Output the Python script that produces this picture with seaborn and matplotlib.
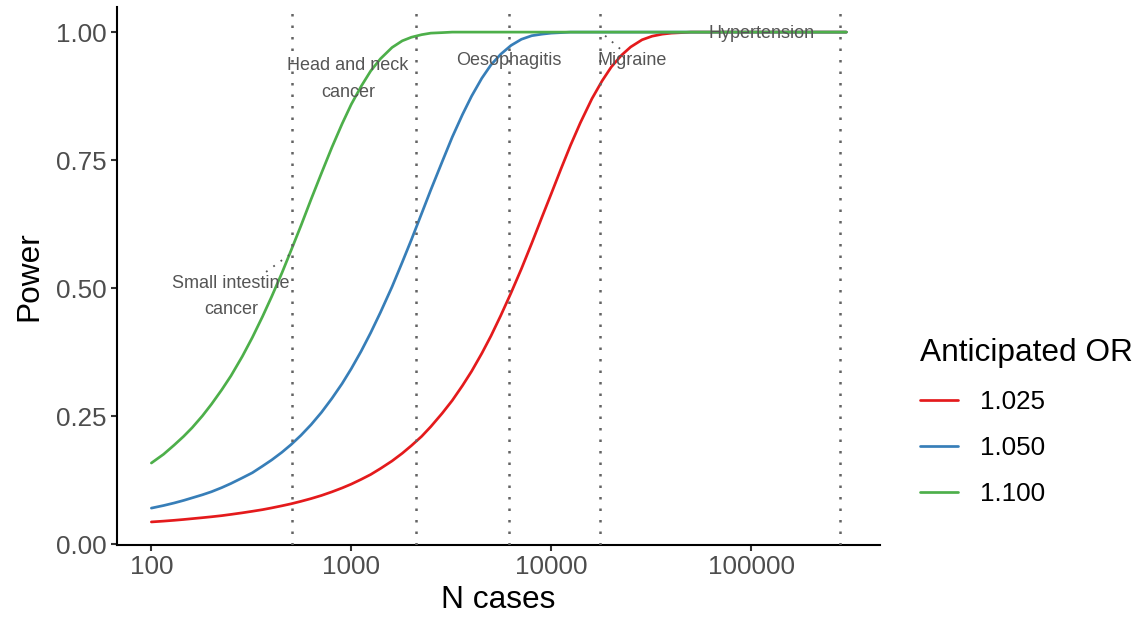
import numpy as np
import pandas as pd
import matplotlib
matplotlib.use("Agg")
import matplotlib.pyplot as plt
import seaborn as sns
from matplotlib.ticker import FixedLocator, FixedFormatter, NullLocator

# Number of cases at which power was evaluated
n_cases = [100, 115, 130, 145, 160, 180, 200, 225, 250, 285,
           320, 360, 400, 450, 500, 560, 630, 710, 800, 900,
           1000, 1120, 1250, 1400, 1600, 1800, 2000, 2250, 2500, 2850,
           3200, 3600, 4000, 4500, 5000, 5600, 6300, 7100, 8000, 9000,
           10000, 11200, 12500, 14000, 16000, 18000, 20000, 22500, 25000, 28500,
           32000, 36000, 40000, 45000, 50000, 63000, 80000, 100000, 200000, 300000]

# Power for each anticipated odds ratio
power_or_1025 = [0.0440, 0.0456, 0.0472, 0.0488, 0.0504, 0.0523, 0.0541, 0.0563, 0.0587, 0.0618,
                 0.0648, 0.0680, 0.0714, 0.0755, 0.0794, 0.0842, 0.0896, 0.0957, 0.1027, 0.1103,
                 0.1178, 0.1270, 0.1365, 0.1482, 0.1630, 0.1780, 0.1930, 0.2110, 0.2300, 0.2560,
                 0.2810, 0.3100, 0.3380, 0.3730, 0.4070, 0.4470, 0.4910, 0.5380, 0.5880, 0.6390,
                 0.6840, 0.7330, 0.7790, 0.8230, 0.8700, 0.9050, 0.9320, 0.9550, 0.9710, 0.9850,
                 0.9920, 0.9960, 0.9980, 0.9990, 1.0000, 1.0000, 1.0000, 1.0000, 1.0000, 1.0000]
power_or_1050 = [0.071, 0.076, 0.081, 0.086, 0.091, 0.097, 0.103, 0.111, 0.119, 0.130,
                 0.140, 0.153, 0.165, 0.180, 0.195, 0.213, 0.234, 0.258, 0.285, 0.314,
                 0.343, 0.377, 0.413, 0.453, 0.503, 0.551, 0.595, 0.646, 0.692, 0.747,
                 0.795, 0.839, 0.875, 0.910, 0.936, 0.957, 0.974, 0.986, 0.993, 0.996,
                 0.998, 0.999, 1.000, 1.000, 1.000, 1.000, 1.000, 1.000, 1.000, 1.000,
                 1.000, 1.000, 1.000, 1.000, 1.000, 1.000, 1.000, 1.000, 1.000, 1.000]
power_or_1100 = [0.159, 0.176, 0.194, 0.211, 0.228, 0.251, 0.274, 0.302, 0.329, 0.367,
                 0.404, 0.445, 0.484, 0.530, 0.574, 0.622, 0.674, 0.725, 0.775, 0.821,
                 0.859, 0.894, 0.924, 0.948, 0.970, 0.983, 0.990, 0.995, 0.998, 0.999,
                 1.000, 1.000, 1.000, 1.000, 1.000, 1.000, 1.000, 1.000, 1.000, 1.000,
                 1.000, 1.000, 1.000, 1.000, 1.000, 1.000, 1.000, 1.000, 1.000, 1.000,
                 1.000, 1.000, 1.000, 1.000, 1.000, 1.000, 1.000, 1.000, 1.000, 1.000]
or_labels = ["1.025", "1.050", "1.100"]

# Observed case numbers per outcome
disease_names = ["Small intestine\ncancer", "Head and neck\ncancer",
                 "Oesophagitis", "Migraine", "Hypertension"]
disease_cases = [503, 2106, 6186, 17640, 278600]

x_ticks = [100, 1000, 10000, 100000]
x_tick_labels = ["100", "1000", "10000", "100000"]
y_ticks = [0.00, 0.25, 0.50, 0.75, 1.00]
y_tick_labels = ["0.00", "0.25", "0.50", "0.75", "1.00"]

palette = ["#E41A1C", "#377EB8", "#4DAF4A"]

df = pd.DataFrame({
    "N cases": n_cases * 3,
    "Power": power_or_1025 + power_or_1050 + power_or_1100,
    "Anticipated OR": [lab for lab in or_labels for _ in n_cases],
})

sns.set_theme(style="ticks")
plt.rcParams["font.family"] = ["Liberation Sans", "DejaVu Sans"]

fig = plt.figure(figsize=(11.36, 6.18), dpi=100)
ax = fig.add_axes([117 / 1136, 1 - 545 / 618, (880 - 117) / 1136, (545 - 7) / 618])

sns.lineplot(data=df, x="N cases", y="Power", hue="Anticipated OR",
             palette=palette, linewidth=1.95, estimator=None, sort=True,
             ax=ax, zorder=2)

ax.set_xscale("log")
ax.set_xlim(67.3, 441900)
ax.set_ylim(-0.001, 1.049)

# Case-count reference lines
for n in disease_cases:
    ax.axvline(n, color="#636363", linewidth=1.8,
               linestyle=(0, (1, 3.6)), dash_capstyle="butt", zorder=3)

# Outcome labels (text centre in data coordinates)
label_spots = [(250.4, 0.484), (964, 0.908), (6158, 0.944),
               (25390, 0.944), (113500, 0.997)]
for name, (lx, ly) in zip(disease_names, label_spots):
    ax.text(lx, ly, name, ha="center", va="center", fontsize=13,
            color="#555555", linespacing=1.75, zorder=4)

# Leader segments from labels to their reference lines
ax.plot([374.8, 488.5], [0.532, 0.565], color="#555555", linewidth=1.3,
        linestyle=(0, (1, 4)), zorder=4)
ax.plot([18620, 22650], [0.993, 0.964], color="#555555", linewidth=1.3,
        linestyle=(0, (1, 4)), zorder=4)

ax.xaxis.set_major_locator(FixedLocator(x_ticks))
ax.xaxis.set_major_formatter(FixedFormatter(x_tick_labels))
ax.xaxis.set_minor_locator(NullLocator())
ax.yaxis.set_major_locator(FixedLocator(y_ticks))
ax.yaxis.set_major_formatter(FixedFormatter(y_tick_labels))

for side in ["top", "right"]:
    ax.spines[side].set_visible(False)
for side in ["left", "bottom"]:
    ax.spines[side].set_linewidth(1.5)
    ax.spines[side].set_color("black")

ax.tick_params(axis="both", which="major", length=4.5, width=1.5,
               color="#333333", labelsize=18.7, labelcolor="#4D4D4D", pad=3)

ax.set_xlabel("N cases", fontsize=22.8, color="black", labelpad=4)
ax.set_ylabel("Power", fontsize=22.8, color="black", labelpad=8)

sns.move_legend(ax, "center left", bbox_to_anchor=(897 / 1136, 1 - 422 / 618),
                bbox_transform=fig.transFigure, frameon=False,
                title="Anticipated OR", fontsize=18.7, title_fontsize=22.8,
                handlelength=1.45, handletextpad=0.85, labelspacing=0.85,
                alignment="left", borderpad=0.4)
leg = ax.get_legend()
leg.get_title().set_color("black")
for t in leg.get_texts():
    t.set_color("black")

fig.savefig("out.png", dpi=100)
